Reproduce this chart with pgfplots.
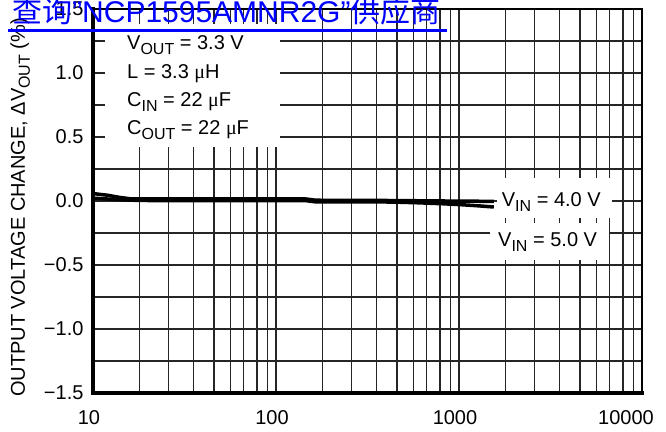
\documentclass[border=0pt]{standalone}
\usepackage{fontspec}
\setmainfont{Liberation Sans}
\newfontfamily\cjk{Noto Sans CJK SC}
\newfontfamily\symf{Liberation Serif}
\usepackage{pgfplots}
\pgfplotsset{compat=1.18}
\definecolor{LinkBlue}{RGB}{0,0,255}
\newcommand{\sub}[1]{\raisebox{-5pt}{\fontsize{16}{16}\selectfont #1}}
\newcommand{\mi}{{\symf μ}}

\begin{document}
\begin{tikzpicture}[font=\fontsize{20}{24}\selectfont]
\begin{axis}[
  scale only axis, width=549pt, height=384pt,
  xmode=log, xmin=10, xmax=10000,
  ymin=-1.5, ymax=1.5,
  xtick={10,100,1000,10000},
  xticklabels={10,100,1000,\hspace*{-24pt}10000},
  minor xtick={18.03,25.76,35.24,45.81,56.10,66.53,78.70,89.74,
               180.3,257.6,352.4,458.1,561.0,665.3,787.0,897.4,
               1803,2576,3524,4581,5610,6653,7870,8974},
  ytick={-1.5,-1,-0.5,0,0.5,1,1.5},
  yticklabels={−1.5,−1.0,−0.5,0.0,0.5,1.0,1.5},
  minor ytick={-1.25,-0.75,-0.25,0.25,0.75,1.25},
  grid=both,
  major grid style={black!85, line width=1.1pt},
  minor grid style={black!85, line width=1.1pt},
  tick style={draw=none},
  axis line style={line width=1.3pt},
  tick label style={font=\fontsize{20}{24}\selectfont},
  xticklabel style={yshift=-14pt, xshift=-4pt},
  yticklabel style={xshift=-6pt},
]
% V_IN = 4.0 V
\addplot[black, line width=3.5pt, line join=round] coordinates {
 (10,0.058)(12,0.045)(14,0.028)(16,0.017)(20,0.016)(50,0.016)(100,0.016)
 (145,0.016)(165,0.006)(250,0.005)(400,0.004)(700,0.001)(1000,-0.001)
 (1300,-0.002)(1550,-0.003)};
% V_IN = 5.0 V
\addplot[black, line width=3.5pt, line join=round] coordinates {
 (10,0.022)(14,0.010)(18,0.004)(50,0.003)(100,0.003)(145,0.003)
 (165,-0.007)(300,-0.007)(430,-0.008)(600,-0.014)(800,-0.021)
 (1000,-0.028)(1200,-0.035)(1400,-0.042)(1550,-0.047)};
\end{axis}

% frame: heavy left and bottom edges
\draw[line width=3.3pt, line cap=rect] (0pt,384pt) -- (0pt,0pt) -- (549pt,0pt);

% annotation boxes
\fill[white] (12pt,369pt) rectangle (187pt,246pt);
\fill[white] (404pt,215pt) rectangle (519pt,175pt);
\fill[white] (397pt,170pt) rectangle (516pt,133pt);

\node[anchor=base west, inner sep=0pt] at (34pt,343pt) {V\sub{OUT} = 3.3 V};
\node[anchor=base west, inner sep=0pt] at (34pt,314.7pt) {L = 3.3 \mi H};
\node[anchor=base west, inner sep=0pt] at (34pt,286.3pt) {C\sub{IN} = 22 \mi F};
\node[anchor=base west, inner sep=0pt] at (34pt,258pt) {C\sub{OUT} = 22 \mi F};
\node[anchor=base west, inner sep=0pt] at (408.7pt,186.3pt) {V\sub{IN} = 4.0 V};
\node[anchor=base west, inner sep=0pt] at (405pt,146.3pt) {V\sub{IN} = 5.0 V};

% y axis title
\node[rotate=90, anchor=base west, inner sep=0pt] at (-68pt,-4pt)
  {OUTPUT VOLTAGE CHANGE, ΔV\sub{OUT} (\%)};

% overlaid link text
\node[anchor=base west, inner sep=0pt, text=LinkBlue,
      font=\fontsize{30}{30}\selectfont] at (-81pt,370.3pt)
  {{\cjk 查询}\char"22 NCP1595AMNR2G\char"22{\cjk 供应商}};
\draw[LinkBlue, line width=3pt] (-85pt,362pt) -- (354pt,362pt);

\pgfresetboundingbox
\path[use as bounding box] (-93pt,-38pt) rectangle (573pt,393pt);
\end{tikzpicture}
\end{document}
